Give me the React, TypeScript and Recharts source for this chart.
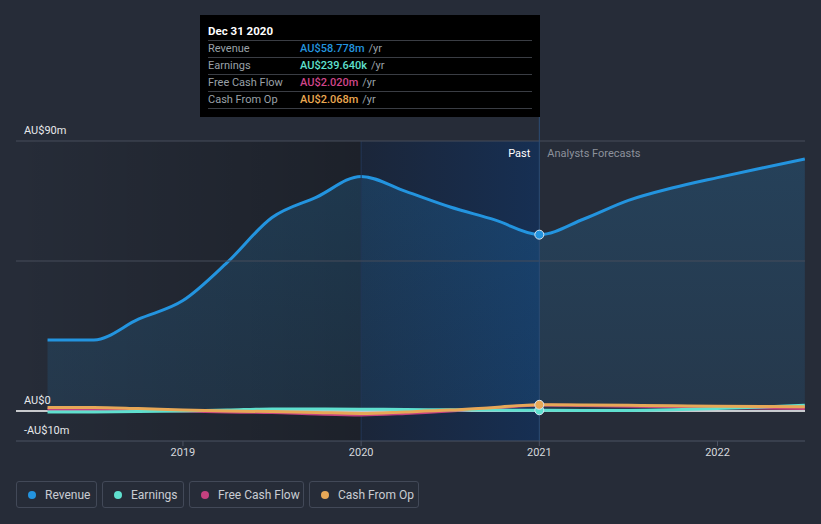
import React from 'react';
import {
  ComposedChart, Area, Line, XAxis, YAxis, ReferenceLine, ReferenceArea, ReferenceDot,
} from 'recharts';

// decimal years
const dates = [2018.24, 2018.5, 2018.75, 2019.0, 2019.25, 2019.5, 2019.75, 2020.0, 2020.25, 2020.5, 2020.75, 2021.0, 2021.25, 2021.5, 2021.75, 2022.0, 2022.25, 2022.49];
const revenue = [23.7, 23.7, 30.6, 36.8, 49.6, 64.5, 71.3, 78.2, 73.2, 68.0, 63.7, 58.778, 64.0, 70.2, 74.4, 77.8, 81.0, 84.0];
const earnings = [-0.3, -0.3, -0.2, 0.0, 0.3, 0.7, 0.7, 0.6, 0.5, 0.4, 0.3, 0.24, 0.2, 0.2, 0.4, 0.8, 1.3, 1.9];
const freeCashFlow = [0.6, 0.6, 0.3, 0.0, -0.3, -0.5, -1.0, -1.3, -0.8, 0.0, 1.0, 2.02, 1.8, 1.6, 1.4, 1.2, 1.0, 0.8];
const cashFromOp = [1.2, 1.2, 0.8, 0.3, 0.0, -0.2, -0.5, -0.8, -0.3, 0.3, 1.2, 2.068, 2.0, 1.9, 1.75, 1.6, 1.5, 1.4];

const yTickLabels = [
  { value: 90, label: 'AU$90m', line: true },
  { value: 50, label: '', line: true },
  { value: 0, label: 'AU$0', line: false },
  { value: -10, label: '-AU$10m', line: false },
];
const xTicks = [2019, 2020, 2021, 2022];
const xDomain = [2018.063, 2022.491];
const pastStart = 2020;
const nowDate = 2021;

const tooltipTitle = 'Dec 31 2020';
const tooltipRows = [
  { label: 'Revenue', value: 'AU$58.778m', color: '#2394df' },
  { label: 'Earnings', value: 'AU$239.640k', color: '#5fe0cf' },
  { label: 'Free Cash Flow', value: 'AU$2.020m', color: '#d0458a' },
  { label: 'Cash From Op', value: 'AU$2.068m', color: '#eaa851' },
];

const legendItems = [
  { name: 'Revenue', color: '#2394df', width: 81 },
  { name: 'Earnings', color: '#5fe0cf', width: 82 },
  { name: 'Free Cash Flow', color: '#c4417f', width: 115 },
  { name: 'Cash From Op', color: '#e7a857', width: 110 },
];

const data = dates.map((d, i) => ({
  date: d,
  revenue: revenue[i],
  earnings: earnings[i],
  fcf: freeCashFlow[i],
  cfo: cashFromOp[i],
}));

const FONT = 'Roboto, "Noto Sans", sans-serif';

const GridWithLabel = (props: any) => {
  const { x1, x2, y1, label, line } = props;
  const left = Math.min(x1, x2);
  const right = Math.max(x1, x2);
  return (
    <g>
      {line && <line x1={left} x2={right} y1={y1} y2={y1} stroke="#464d5b" strokeWidth={1} />}
      {label && (
        <text x={left + 8} y={y1 - 7} fill="#e6e8eb" fontSize={11} fontFamily={FONT}>{label}</text>
      )}
    </g>
  );
};

const NowLine = (props: any) => {
  const { x1, y1, y2 } = props;
  const top = Math.min(y1, y2);
  const bottom = Math.max(y1, y2);
  return (
    <g>
      <line x1={x1} x2={x1} y1={top - 24} y2={bottom} stroke="#2b4c75" strokeWidth={1} />
      <text x={x1 - 9} y={top + 16} textAnchor="end" fill="#ffffff" fontSize={11} fontFamily={FONT}>Past</text>
      <text x={x1 + 8} y={top + 16} textAnchor="start" fill="#8c919b" fontSize={11} fontFamily={FONT}>Analysts Forecasts</text>
    </g>
  );
};

export default function App() {
  return (
    <div style={{ position: 'absolute', left: 0, top: 0, width: 821, height: 524, background: '#262c38', overflow: 'hidden', fontFamily: FONT }}>
      <ComposedChart width={821} height={470} data={data} margin={{ top: 141, right: 16, bottom: 0, left: 16 }}>
        <defs>
          <linearGradient id="leftGrad" x1="0" y1="0" x2="1" y2="0">
            <stop offset="0%" stopColor="#000000" stopOpacity={0} />
            <stop offset="100%" stopColor="#000000" stopOpacity={0.25} />
          </linearGradient>
          <linearGradient id="pastGrad" x1="0" y1="0" x2="1" y2="0">
            <stop offset="0%" stopColor="#16233a" stopOpacity={0.7} />
            <stop offset="100%" stopColor="#12305a" stopOpacity={0.8} />
          </linearGradient>
          <linearGradient id="revGrad" x1="0" y1="0" x2="0" y2="1">
            <stop offset="0%" stopColor="#2394df" stopOpacity={0.2} />
            <stop offset="100%" stopColor="#2394df" stopOpacity={0.12} />
          </linearGradient>
        </defs>
        <XAxis
          dataKey="date"
          type="number"
          domain={xDomain}
          ticks={xTicks}
          allowDataOverflow
          height={29}
          axisLine={{ stroke: '#4b5262' }}
          tickLine={{ stroke: '#4b5262' }}
          tickSize={5}
          tick={{ fill: '#d5d8dd', fontSize: 11, fontFamily: FONT }}
          tickFormatter={(v: number) => String(v)}
        />
        <YAxis type="number" domain={[-10, 90]} width={0} hide allowDataOverflow />
        <ReferenceArea x1={xDomain[0]} x2={pastStart} y1={-10} y2={90} fill="url(#leftGrad)" fillOpacity={1} stroke="none" ifOverflow="hidden" />
        <ReferenceArea x1={pastStart} x2={nowDate} y1={-10} y2={90} fill="url(#pastGrad)" fillOpacity={1} stroke="none" />
        <ReferenceLine x={pastStart} stroke="#213656" strokeWidth={1} />
        {yTickLabels.map((t) => (
          <ReferenceLine key={t.value} y={t.value} shape={<GridWithLabel label={t.label} line={t.line} />} />
        ))}
        <ReferenceLine y={0} stroke="#ffffff" strokeWidth={1.5} />
        <Area type="monotone" dataKey="revenue" stroke="#2394df" strokeWidth={3} fill="url(#revGrad)" fillOpacity={1} dot={false} activeDot={false} isAnimationActive={false} />
        <Line type="monotone" dataKey="fcf" stroke="#c4417f" strokeWidth={3} dot={false} activeDot={false} isAnimationActive={false} />
        <Line type="monotone" dataKey="earnings" stroke="#5fe0cf" strokeWidth={3} dot={false} activeDot={false} isAnimationActive={false} />
        <Line type="monotone" dataKey="cfo" stroke="#e7a857" strokeWidth={3} dot={false} activeDot={false} isAnimationActive={false} />
        <ReferenceLine x={nowDate} shape={<NowLine />} />
        <ReferenceDot x={nowDate} y={revenue[11]} r={4.5} fill="#2394df" stroke="#d8e6f2" strokeWidth={1} />
        <ReferenceDot x={nowDate} y={earnings[11]} r={4.5} fill="#5fe0cf" stroke="#d8e6f2" strokeWidth={1} />
        <ReferenceDot x={nowDate} y={cashFromOp[11]} r={4.5} fill="#e7a857" stroke="#d8e6f2" strokeWidth={1} />
      </ComposedChart>

      <div style={{ position: 'absolute', left: 200, top: 15, width: 340, height: 102, background: '#000000', boxSizing: 'border-box', padding: '8px 8px 0 8px' }}>
        <div style={{ color: '#ffffff', fontWeight: 700, fontSize: 11.5, height: 17, lineHeight: '17px' }}>{tooltipTitle}</div>
        {tooltipRows.map((r) => (
          <div key={r.label} style={{ display: 'flex', borderTop: '1px solid #3a3d44', height: 16, lineHeight: '16px', fontSize: 11 }}>
            <span style={{ width: 92, color: '#9aa0a8' }}>{r.label}</span>
            <span style={{ color: r.color, fontWeight: 500 }}>{r.value}</span>
            <span style={{ color: '#9aa0a8', marginLeft: 4 }}>/yr</span>
          </div>
        ))}
        <div style={{ borderTop: '1px solid #3a3d44' }} />
      </div>

      <div style={{ position: 'absolute', left: 16, top: 481, display: 'flex', gap: 5 }}>
        {legendItems.map((l) => (
          <div key={l.name} style={{ width: l.width, height: 27, boxSizing: 'border-box', border: '1px solid #424958', borderRadius: 3, display: 'flex', alignItems: 'center', paddingLeft: 11, color: '#c9cdd3', fontSize: 12, whiteSpace: 'nowrap' }}>
            <span style={{ width: 8, height: 8, flex: '0 0 8px', borderRadius: '50%', background: l.color, display: 'inline-block', marginRight: 9 }} />
            <span>{l.name}</span>
          </div>
        ))}
      </div>
    </div>
  );
}
